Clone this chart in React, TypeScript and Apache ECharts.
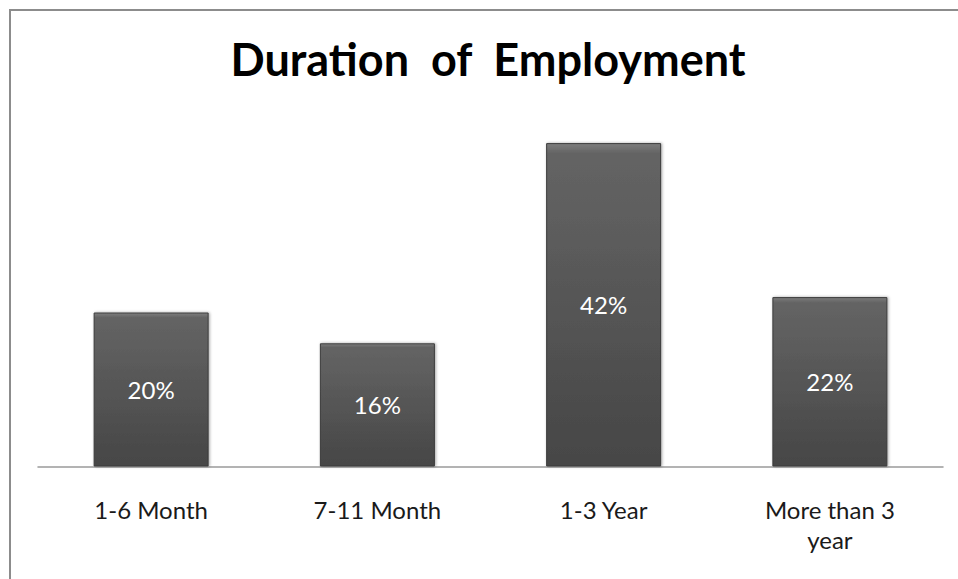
import React, { useEffect, useRef } from "react";
import * as echarts from "echarts";

const titleText = "Duration  of  Employment";
const categories = ["1-6 Month", "7-11 Month", "1-3 Year", "More than 3\nyear"];
const percentages = [20, 16, 42, 22];

export default function App() {
  const ref = useRef<HTMLDivElement>(null);
  useEffect(() => {
    if (!ref.current) return;
    const chart = echarts.init(ref.current, null, { renderer: "svg" });
    const font = "Lato, 'Open Sans', sans-serif";
    chart.setOption({
      animation: false,
      backgroundColor: "#ffffff",
      title: {
        text: titleText,
        left: 483,
        top: 31,
        textAlign: "center",
        textStyle: { fontFamily: font, fontSize: 45, fontWeight: "bold", color: "#000" },
      },
      graphic: [
        {
          type: "rect",
          shape: { x: 10, y: 10, width: 980, height: 600 },
          style: { fill: "none", stroke: "#8c8c8c", lineWidth: 2 },
          silent: true,
        },
      ],
      grid: { left: 38, right: 15, top: 120, bottom: 112.5, containLabel: false },
      xAxis: {
        type: "category",
        data: categories,
        axisLine: { show: true, lineStyle: { color: "#9a9a9a", width: 1.5 } },
        axisTick: { show: false },
        axisLabel: {
          interval: 0,
          margin: 28,
          fontFamily: font,
          fontSize: 24,
          lineHeight: 30,
          color: "#1a1a1a",
        },
      },
      yAxis: {
        type: "value",
        min: 0,
        max: 45,
        show: false,
        splitLine: { show: false },
      },
      series: [
        {
          type: "bar",
          data: percentages,
          barWidth: 115,
          itemStyle: {
            color: new echarts.graphic.LinearGradient(0, 0, 0, 1, [
              { offset: 0, color: "#7c7c7c" },
              { offset: 0.03, color: "#646464" },
              { offset: 1, color: "#464646" },
            ]),
            borderColor: "#3c3c3c",
            borderWidth: 1,
            shadowBlur: 3,
            shadowColor: "rgba(0,0,0,0.35)",
            shadowOffsetX: 1,
          },
          label: {
            show: true,
            position: "inside",
            formatter: "{c}%",
            fontFamily: font,
            fontSize: 24,
            color: "#ffffff",
          },
        },
      ],
    });
    return () => chart.dispose();
  }, []);
  return (
    <div
      ref={ref}
      style={{ position: "absolute", left: 0, top: 0, width: 958, height: 579 }}
    />
  );
}
